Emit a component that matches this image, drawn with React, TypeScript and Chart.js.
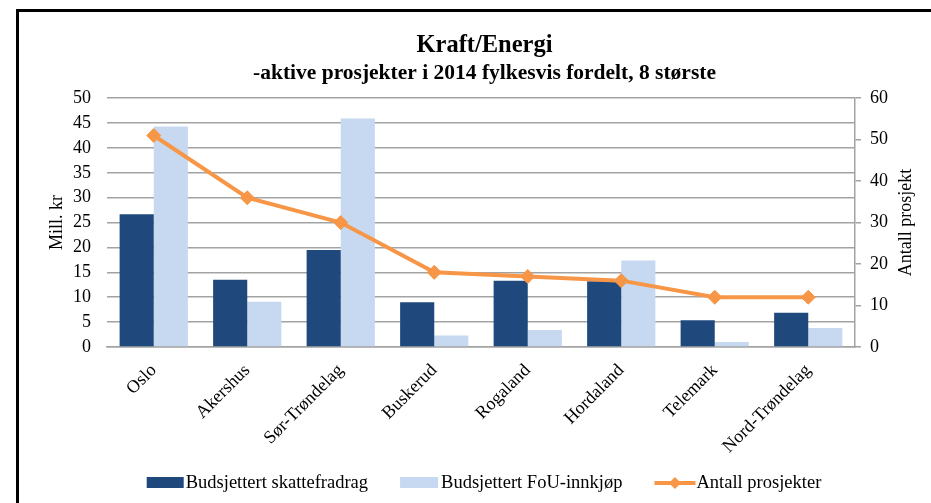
import React, { useEffect, useRef } from "react";
import { Chart, registerables } from "chart.js";

Chart.register(...registerables);

const categories = ["Oslo", "Akershus", "Sør-Trøndelag", "Buskerud", "Rogaland", "Hordaland", "Telemark", "Nord-Trøndelag"];
const skattefradrag = [26.7, 13.5, 19.5, 9.0, 13.3, 13.2, 5.4, 6.9];
const fouInnkjop = [44.3, 9.1, 45.9, 2.3, 3.4, 17.4, 1.0, 3.8];
const antallProsjekter = [51, 36, 30, 18, 17, 16, 12, 12];

const titleText = "Kraft/Energi";
const subtitleText = "-aktive prosjekter i 2014 fylkesvis fordelt, 8 største";
const leftAxisTitle = "Mill. kr";
const rightAxisTitle = "Antall prosjekt";
const seriesNames = ["Budsjettert skattefradrag", "Budsjettert FoU-innkjøp", "Antall prosjekter"];

const DARK = "#1F497D";
const LIGHT = "#C6D9F1";
const ORANGE = "#F79646";
const GRID = "#a3a3a3";
const FONT = "'Liberation Serif', 'Times New Roman', serif";
const TXT = 18;

const decorPlugin = {
  id: "decor",
  beforeDraw(chart: any) {
    const ctx = chart.ctx;
    ctx.save();
    ctx.fillStyle = "#ffffff";
    ctx.fillRect(0, 0, chart.width, chart.height);
    ctx.restore();
  },
  afterDraw(chart: any) {
    const ctx = chart.ctx;
    const area = chart.chartArea;
    ctx.save();
    ctx.strokeStyle = "#000000";
    ctx.lineWidth = 3;
    ctx.beginPath();
    ctx.moveTo(17.5, chart.height + 2);
    ctx.lineTo(17.5, 10.5);
    ctx.lineTo(chart.width + 2, 10.5);
    ctx.stroke();

    ctx.fillStyle = "#000";
    ctx.font = `${TXT}px ${FONT}`;
    ctx.textAlign = "center";
    ctx.textBaseline = "middle";
    ctx.translate(906, (area.top + area.bottom) / 2);
    ctx.rotate(-Math.PI / 2);
    ctx.fillText(rightAxisTitle, 0, 0);
    ctx.restore();

    ctx.save();
    ctx.font = `18.5px ${FONT}`;
    ctx.textBaseline = "middle";
    ctx.textAlign = "left";
    const items = [
      { kind: "box", color: DARK, w: 37, gap: 2 },
      { kind: "box", color: LIGHT, w: 38, gap: 3 },
      { kind: "line", color: ORANGE, w: 41, gap: 1 },
    ];
    const spacing = 32;
    const widths = items.map((it, i) => it.w + it.gap + ctx.measureText(seriesNames[i]).width);
    const total = widths.reduce((a, b) => a + b, 0) + spacing * (items.length - 1);
    let x = 484 - total / 2;
    const y = 483;
    items.forEach((it, i) => {
      if (it.kind === "box") {
        ctx.fillStyle = it.color;
        ctx.fillRect(x, y - 6, it.w, 11);
      } else {
        ctx.strokeStyle = it.color;
        ctx.lineWidth = 4;
        ctx.beginPath();
        ctx.moveTo(x, y);
        ctx.lineTo(x + it.w, y);
        ctx.stroke();
        ctx.fillStyle = it.color;
        const cx = x + it.w / 2;
        ctx.beginPath();
        ctx.moveTo(cx - 6, y);
        ctx.lineTo(cx, y - 6);
        ctx.lineTo(cx + 6, y);
        ctx.lineTo(cx, y + 6);
        ctx.closePath();
        ctx.fill();
      }
      ctx.fillStyle = "#000";
      ctx.fillText(seriesNames[i], x + it.w + it.gap, y);
      x += widths[i] + spacing;
    });
    ctx.restore();
  },
};

export default function App() {
  const ref = useRef<HTMLCanvasElement | null>(null);

  useEffect(() => {
    if (!ref.current) return;
    const chart = new Chart(ref.current, {
      type: "bar",
      data: {
        labels: categories,
        datasets: [
          {
            type: "line",
            label: seriesNames[2],
            data: antallProsjekter,
            yAxisID: "y1",
            borderColor: ORANGE,
            backgroundColor: ORANGE,
            borderWidth: 4,
            pointStyle: "rectRot",
            pointRadius: 7,
            pointBackgroundColor: ORANGE,
            pointBorderColor: ORANGE,
            pointBorderWidth: 1,
            tension: 0,
            order: 0,
          } as any,
          {
            type: "bar",
            label: seriesNames[0],
            data: skattefradrag,
            yAxisID: "y",
            backgroundColor: DARK,
            barPercentage: 1,
            categoryPercentage: 0.73,
            order: 1,
          },
          {
            type: "bar",
            label: seriesNames[1],
            data: fouInnkjop,
            yAxisID: "y",
            backgroundColor: LIGHT,
            barPercentage: 1,
            categoryPercentage: 0.73,
            order: 2,
          },
        ],
      },
      options: {
        animation: false,
        responsive: false,
        maintainAspectRatio: false,
        layout: { padding: { top: 20, left: 38, right: 0, bottom: 36 } },
        plugins: {
          legend: { display: false },
          tooltip: { enabled: false },
          title: {
            display: true,
            text: titleText,
            color: "#000",
            font: { family: FONT, size: 24.5, weight: "bold" },
            padding: { top: 11, bottom: 0 },
          },
          subtitle: {
            display: true,
            text: subtitleText,
            color: "#000",
            font: { family: FONT, size: 21.5, weight: "bold" },
            padding: { top: 0, bottom: 12 },
          },
        },
        scales: {
          x: {
            grid: { display: false },
            border: { display: true, color: GRID, width: 1.5 },
            ticks: {
              color: "#000",
              font: { family: FONT, size: TXT },
              maxRotation: 45,
              minRotation: 45,
              autoSkip: false,
              padding: 5,
            },
            afterFit: (s: any) => {
              s.height = 120;
            },
          },
          y: {
            position: "left",
            min: 0,
            max: 50,
            ticks: { stepSize: 5, color: "#000", font: { family: FONT, size: TXT }, padding: 16 },
            grid: { color: GRID, lineWidth: 1.5, drawTicks: false },
            border: { display: false },
            title: {
              display: true,
              text: leftAxisTitle,
              color: "#000",
              font: { family: FONT, size: TXT },
              padding: { top: 8, bottom: 0 },
            },
            afterFit: (s: any) => {
              s.width = 69;
            },
          },
          y1: {
            position: "right",
            min: 0,
            max: 60,
            ticks: { stepSize: 10, color: "#000", font: { family: FONT, size: TXT }, padding: 9 },
            grid: { drawOnChartArea: false, drawTicks: true, tickLength: 6, color: GRID, lineWidth: 1.5 },
            border: { display: true, color: GRID, width: 1.5 },
            afterFit: (s: any) => {
              s.width = 76;
            },
          },
        },
      },
      plugins: [decorPlugin],
    });
    return () => chart.destroy();
  }, []);

  return (
    <div style={{ position: "fixed", left: 0, top: 0, width: 931, height: 503, background: "#fff" }}>
      <canvas ref={ref} width={931} height={503} style={{ width: 931, height: 503, display: "block" }} />
    </div>
  );
}
